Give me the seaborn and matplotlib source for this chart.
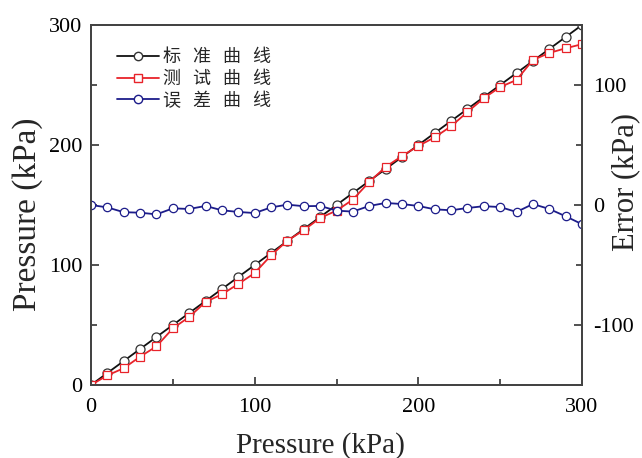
import numpy as np
import pandas as pd
import matplotlib
matplotlib.use("Agg")
import matplotlib.pyplot as plt
import seaborn as sns
from matplotlib.ticker import MultipleLocator
from matplotlib.lines import Line2D

pressure = [0, 10, 20, 30, 40, 50, 60, 70, 80, 90, 100, 110, 120, 130, 140, 150,
            160, 170, 180, 190, 200, 210, 220, 230, 240, 250, 260, 270, 280, 290, 300]
standard = [0, 10, 20, 30, 40, 50, 60, 70, 80, 90, 100, 110, 120, 130, 140, 150,
            160, 170, 180, 190, 200, 210, 220, 230, 240, 250, 260, 270, 280, 290, 300]
test = [0, 8, 14, 23.6, 32.2, 47.2, 56.7, 69.2, 75.6, 84.2, 93.3, 108, 120.3, 129,
        139.2, 145.3, 154.5, 169.2, 181.7, 190.8, 199.2, 206.4, 215.6, 227.5, 239,
        248.3, 254.2, 270.8, 276.7, 280.6, 284]
error = [0, -2, -6, -6.4, -7.8, -2.8, -3.3, -0.8, -4.4, -5.8, -6.7, -2, 0.3, -1,
         -0.8, -4.7, -5.5, -0.8, 1.7, 0.8, -0.8, -3.6, -4.4, -2.5, -1, -1.7, -5.8,
         0.8, -3.3, -9.4, -16]
legend_labels = ["标   准   曲   线", "测   试   曲   线", "误   差   曲   线"]

sns.set_style("ticks")
plt.rcParams['font.family'] = ['Liberation Serif', 'Noto Sans CJK SC', 'DejaVu Sans']
plt.rcParams['axes.unicode_minus'] = False

df = pd.DataFrame({"p": pressure, "std": standard, "test": test, "err": error})

fig = plt.figure(figsize=(6.42, 4.58), dpi=100)
ax = fig.add_axes([91/642, 1-385/458, (582-91)/642, (385-25)/458])
ax2 = ax.twinx()

c_black, c_red, c_blue = "#111111", "#e8232a", "#1c1c8a"

sns.lineplot(data=df, x="p", y="std", ax=ax, color=c_black, marker="o",
             markersize=6.5, markerfacecolor="white", markeredgecolor="#333333",
             markeredgewidth=0.9, linewidth=1.3)
sns.lineplot(data=df, x="p", y="test", ax=ax, color=c_red, marker="s",
             markersize=5.5, markerfacecolor="white", markeredgecolor=c_red,
             markeredgewidth=0.9, linewidth=1.3)
sns.lineplot(data=df, x="p", y="err", ax=ax2, color=c_blue, marker="o",
             markersize=6, markerfacecolor="white", markeredgecolor=c_blue,
             markeredgewidth=0.9, linewidth=1.3)

ax.set_xlim(0, 300)
ax.set_ylim(0, 300)
ax2.set_ylim(-150, 150)

ax.xaxis.set_major_locator(MultipleLocator(100))
ax.xaxis.set_minor_locator(MultipleLocator(50))
ax.yaxis.set_major_locator(MultipleLocator(100))
ax.yaxis.set_minor_locator(MultipleLocator(50))
ax2.yaxis.set_major_locator(MultipleLocator(100))
ax2.yaxis.set_minor_locator(MultipleLocator(50))

for a in (ax, ax2):
    a.tick_params(which="major", direction="in", length=6, width=1.1,
                  labelsize=16, colors="#222222", labelcolor="black")
    a.tick_params(which="minor", direction="in", length=4, width=1.1, colors="#222222")
    for s in a.spines.values():
        s.set_linewidth(1.4)
        s.set_color("#444444")
ax.tick_params(axis="x", pad=9)
ax.tick_params(axis="y", pad=6)
ax2.tick_params(axis="y", pad=8)

ax.set_xlabel("Pressure (kPa)", fontsize=21)
ax.xaxis.set_label_coords((320-91)/491, -(432-385)/360)
ax.set_ylabel("Pressure (kPa)", fontsize=24)
ax.yaxis.set_label_coords(-(91-43)/491, (385-214)/360)
ax2.set_ylabel("Error (kPa)", fontsize=22)
ax2.yaxis.set_label_coords((611-91)/491, (385-182)/360)

handles = [
    Line2D([], [], color=c_black, marker="o", markersize=6, markerfacecolor="white",
           markeredgecolor="#333333", linewidth=1.3),
    Line2D([], [], color=c_red, marker="s", markersize=5.5, markerfacecolor="white",
           markeredgecolor=c_red, linewidth=1.3),
    Line2D([], [], color=c_blue, marker="o", markersize=6, markerfacecolor="white",
           markeredgecolor=c_blue, linewidth=1.3),
]
leg = ax2.legend(handles, legend_labels, loc="upper left", bbox_to_anchor=(0.02, 0.98),
                 frameon=False, numpoints=1, handlelength=2.3, handletextpad=0.25,
                 labelspacing=0.2, prop={"family": ["Noto Sans CJK SC", "DejaVu Sans"], "size": 13})
if ax.get_legend() is not None:
    ax.get_legend().remove()

fig.savefig("out.png", dpi=100)
